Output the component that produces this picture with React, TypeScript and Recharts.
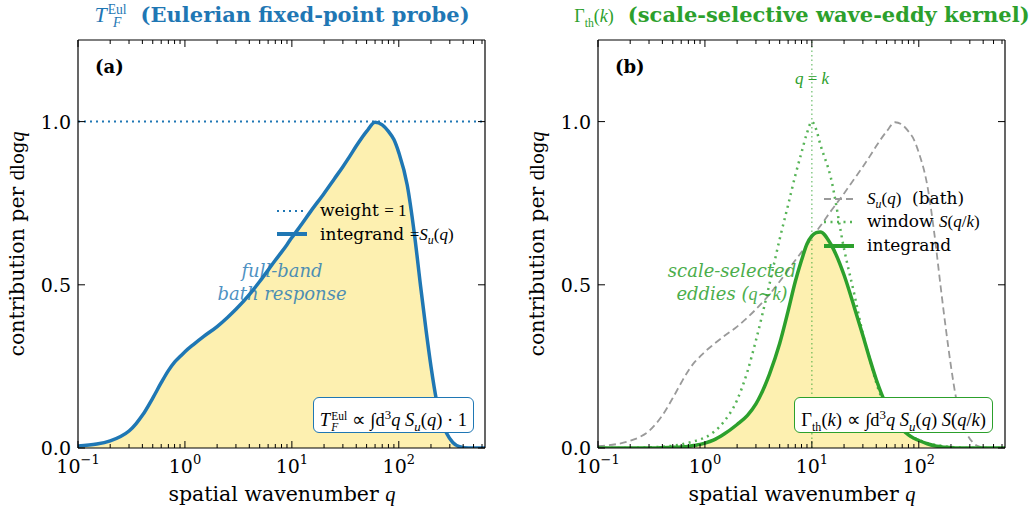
import React from "react";
import {
  Area,
  ComposedChart,
  Line,
  ReferenceLine,
  XAxis,
  YAxis,
} from "recharts";

// wavenumber grid (log spaced)
const Q = [
  0.1, 0.15, 0.2, 0.25, 0.3, 0.35, 0.4, 0.5, 0.6, 0.7, 0.8, 0.9, 1, 1.2, 1.5,
  2, 2.5, 3, 4, 5, 6, 7, 8, 9, 10, 11, 12, 15, 20, 25, 30, 35, 40, 50, 60, 70,
  80, 90, 100, 120, 140, 160, 180, 200, 225, 250, 280, 320, 370, 450, 640,
];
// bath spectrum S_u(q)
const SU = [
  0.006, 0.012, 0.022, 0.035, 0.052, 0.075, 0.1, 0.153, 0.2, 0.237, 0.263,
  0.28, 0.295, 0.317, 0.342, 0.372, 0.4, 0.425, 0.47, 0.51, 0.545, 0.575, 0.6,
  0.623, 0.645, 0.663, 0.68, 0.725, 0.78, 0.825, 0.862, 0.895, 0.925, 0.97,
  0.998, 0.99, 0.97, 0.945, 0.905, 0.805, 0.655, 0.495, 0.36, 0.25, 0.147,
  0.085, 0.045, 0.017, 0.004, 0, 0,
];
// window S(q/k), k = 10
const WIN = [
  0, 0, 0, 0.001, 0.002, 0.003, 0.004, 0.007, 0.011, 0.016, 0.021, 0.026,
  0.032, 0.048, 0.08, 0.147, 0.235, 0.33, 0.5, 0.64, 0.745, 0.835, 0.905,
  0.965, 1.0, 0.975, 0.93, 0.83, 0.61, 0.47, 0.35, 0.27, 0.2, 0.12, 0.08,
  0.055, 0.04, 0.031, 0.025, 0.015, 0.01, 0.007, 0.004, 0.003, 0.002, 0.001, 0,
  0, 0, 0, 0,
];
// integrand S_u(q) S(q/k)
const INTEG = [
  0, 0, 0, 0, 0, 0, 0.001, 0.002, 0.003, 0.005, 0.008, 0.011, 0.015, 0.024,
  0.042, 0.072, 0.1, 0.135, 0.225, 0.32, 0.42, 0.51, 0.575, 0.625, 0.65, 0.66,
  0.662, 0.625, 0.53, 0.43, 0.345, 0.27, 0.21, 0.13, 0.085, 0.058, 0.04, 0.03,
  0.023, 0.013, 0.007, 0.004, 0.002, 0.001, 0, 0, 0, 0, 0, 0, 0,
];

const X_TICKS = [
  0.1, 0.2, 0.3, 0.4, 0.5, 0.6, 0.7, 0.8, 0.9, 1, 2, 3, 4, 5, 6, 7, 8, 9, 10,
  20, 30, 40, 50, 60, 70, 80, 90, 100, 200, 300, 400, 500, 600,
];
const X_MAJOR = [0.1, 1, 10, 100];
const X_EXP = ["\u22121", "0", "1", "2"];
const Y_TICKS = [0, 0.5, 1.0];
const Y_LABELS = ["0.0", "0.5", "1.0"];

const DATA = Q.map((q, i) => ({
  q,
  su: SU[i],
  win: WIN[i],
  integ: INTEG[i],
}));

const BLUE = "#1f77b4";
const GREEN = "#2ca02c";
const GRAY = "#9a9a9a";
const FILL = "#fdf0b0";
const SERIF = "DejaVu Serif";
const MATH = "Liberation Serif";

function BottomTick(p: any) {
  const v = p.payload.value;
  const mi = X_MAJOR.indexOf(v);
  const len = mi >= 0 ? 7 : 4;
  return (
    <g>
      <line x1={p.x} x2={p.x} y1={p.y} y2={p.y - len} stroke="#000" strokeWidth={1} />
      {mi >= 0 && (
        <text x={p.x} y={p.y + 25} textAnchor="middle" fontFamily={SERIF} fontSize={19} fill="#000">
          <tspan>10</tspan>
          <tspan dy={-9} fontSize={13}>{X_EXP[mi]}</tspan>
        </text>
      )}
    </g>
  );
}

function TopTick(p: any) {
  const len = X_MAJOR.indexOf(p.payload.value) >= 0 ? 7 : 4;
  return <line x1={p.x} x2={p.x} y1={p.y} y2={p.y + len} stroke="#000" strokeWidth={1} />;
}

function LeftTick(p: any) {
  const i = Y_TICKS.indexOf(p.payload.value);
  return (
    <g>
      <line x1={p.x} x2={p.x + 7} y1={p.y} y2={p.y} stroke="#000" strokeWidth={1} />
      <text x={p.x - 7} y={p.y + 7} textAnchor="end" fontFamily={SERIF} fontSize={19} fill="#000">
        {Y_LABELS[i]}
      </text>
    </g>
  );
}

function RightTick(p: any) {
  return <line x1={p.x} x2={p.x - 7} y1={p.y} y2={p.y} stroke="#000" strokeWidth={1} />;
}

function Axes() {
  return [
    <XAxis
      key="xb"
      xAxisId="b"
      dataKey="q"
      type="number"
      scale="log"
      domain={[0.1, 640]}
      allowDataOverflow
      ticks={X_TICKS}
      interval={0}
      height={30}
      tickSize={0}
      tickMargin={0}
      tickLine={false}
      axisLine={{ stroke: "#000", strokeWidth: 1.2 }}
      tick={(p: any) => <BottomTick {...p} />}
    />,
    <XAxis
      key="xt"
      xAxisId="t"
      orientation="top"
      dataKey="q"
      type="number"
      scale="log"
      domain={[0.1, 640]}
      allowDataOverflow
      ticks={X_TICKS}
      interval={0}
      height={10}
      tickSize={0}
      tickMargin={0}
      tickLine={false}
      axisLine={{ stroke: "#000", strokeWidth: 1.2 }}
      tick={(p: any) => <TopTick {...p} />}
    />,
    <YAxis
      key="yl"
      yAxisId="l"
      type="number"
      domain={[0, 1.25]}
      allowDataOverflow
      ticks={Y_TICKS}
      interval={0}
      width={40}
      tickSize={0}
      tickMargin={0}
      tickLine={false}
      axisLine={{ stroke: "#000", strokeWidth: 1.2 }}
      tick={(p: any) => <LeftTick {...p} />}
    />,
    <YAxis
      key="yr"
      yAxisId="r"
      orientation="right"
      type="number"
      domain={[0, 1.25]}
      allowDataOverflow
      ticks={Y_TICKS}
      interval={0}
      width={10}
      tickSize={0}
      tickMargin={0}
      tickLine={false}
      axisLine={{ stroke: "#000", strokeWidth: 1.2 }}
      tick={(p: any) => <RightTick {...p} />}
    />,
  ];
}

const M = ({ children }: { children: React.ReactNode }) => (
  <span style={{ fontFamily: MATH, fontStyle: "italic" }}>{children}</span>
);
const R = ({ children }: { children: React.ReactNode }) => (
  <span style={{ fontFamily: MATH }}>{children}</span>
);

function TEul() {
  return (
    <span style={{ fontFamily: MATH, whiteSpace: "nowrap" }}>
      <i>T</i>
      <span
        style={{
          display: "inline-flex",
          flexDirection: "column",
          fontSize: "0.62em",
          lineHeight: 0.95,
          verticalAlign: "middle",
          marginLeft: 1,
        }}
      >
        <span>Eul</span>
        <i>F</i>
      </span>
    </span>
  );
}

function GammaTh() {
  return (
    <span style={{ fontFamily: MATH, whiteSpace: "nowrap" }}>
      Γ<sub style={{ fontSize: "0.65em" }}>th</sub>(<i>k</i>)
    </span>
  );
}

function Su() {
  return (
    <M>
      S<sub style={{ fontSize: "0.7em" }}>u</sub>
      <span style={{ fontStyle: "normal" }}>(</span>q<span style={{ fontStyle: "normal" }}>)</span>
    </M>
  );
}

const abs = (left: number, top: number, extra: React.CSSProperties = {}): React.CSSProperties => ({
  position: "absolute",
  left,
  top,
  whiteSpace: "nowrap",
  ...extra,
});

function Sample({ color, width, dash, opacity = 1 }: { color: string; width: number; dash?: string; opacity?: number }) {
  return (
    <svg width={30} height={12} style={{ display: "block" }}>
      <line x1={0} x2={30} y1={6} y2={6} stroke={color} strokeWidth={width} strokeDasharray={dash} strokeOpacity={opacity} />
    </svg>
  );
}

const boxStyle = (right: number, color: string): React.CSSProperties => ({
  position: "absolute",
  right,
  top: 397,
  height: 34,
  lineHeight: "34px",
  padding: "0 6px",
  border: `1.3px solid ${color}`,
  borderRadius: 6,
  background: "#fff",
  fontFamily: MATH,
  fontSize: 18.5,
  whiteSpace: "nowrap",
});

export default function App() {
  return (
    <div style={{ position: "absolute", left: 0, top: 0, width: 1033, height: 513, background: "#fff", fontFamily: SERIF }}>
      {/* panel (a) */}
      <div style={{ position: "absolute", left: 0, top: 0 }}>
        <ComposedChart width={520} height={513} data={DATA} margin={{ top: 30, right: 25, bottom: 35, left: 38 }}>
          {Axes()}
          <Area xAxisId="b" yAxisId="l" type="monotone" dataKey="su" stroke="none" fill={FILL} fillOpacity={1} isAnimationActive={false} />
          <ReferenceLine xAxisId="b" yAxisId="l" y={1} stroke={BLUE} strokeWidth={2} strokeDasharray="2 4" />
          <Line xAxisId="b" yAxisId="l" type="monotone" dataKey="su" stroke={BLUE} strokeWidth={3.5} dot={false} isAnimationActive={false} />
        </ComposedChart>
      </div>
      {/* panel (b) */}
      <div style={{ position: "absolute", left: 520, top: 0 }}>
        <ComposedChart width={513} height={513} data={DATA} margin={{ top: 30, right: 18, bottom: 35, left: 38 }}>
          {Axes()}
          <Area xAxisId="b" yAxisId="l" type="monotone" dataKey="integ" stroke="none" fill={FILL} fillOpacity={1} isAnimationActive={false} />
          <ReferenceLine xAxisId="b" yAxisId="l" x={10} stroke={GREEN} strokeOpacity={0.7} strokeWidth={1.2} strokeDasharray="1.5 3" />
          <Line xAxisId="b" yAxisId="l" type="monotone" dataKey="su" stroke={GRAY} strokeWidth={1.8} strokeDasharray="7 4" dot={false} isAnimationActive={false} />
          <Line xAxisId="b" yAxisId="l" type="monotone" dataKey="win" stroke={GREEN} strokeOpacity={0.8} strokeWidth={2.5} strokeDasharray="2 4.5" dot={false} isAnimationActive={false} />
          <Line xAxisId="b" yAxisId="l" type="monotone" dataKey="integ" stroke={GREEN} strokeWidth={3.5} dot={false} isAnimationActive={false} />
        </ComposedChart>
      </div>

      {/* titles */}
      <div style={abs(-18, 1, { width: 600, textAlign: "center", color: BLUE, fontSize: 21, lineHeight: "28px" })}>
        <span style={{ fontSize: 22 }}>
          <TEul />
        </span>
        <span style={{ fontWeight: "bold", marginLeft: 14 }}>(Eulerian fixed-point probe)</span>
      </div>
      <div style={abs(502, 1, { width: 600, textAlign: "center", color: GREEN, fontSize: 21, lineHeight: "28px" })}>
        <span style={{ fontSize: 18 }}>
          <GammaTh />
        </span>
        <span style={{ fontWeight: "bold", marginLeft: 14 }}>(scale-selective wave-eddy kernel)</span>
      </div>

      {/* panel labels */}
      <div style={abs(95, 56, { fontWeight: "bold", fontSize: 18 })}>(a)</div>
      <div style={abs(615, 56, { fontWeight: "bold", fontSize: 18 })}>(b)</div>

      {/* axis labels */}
      {[0, 520].map((dx) => (
        <React.Fragment key={dx}>
          <div style={abs(dx + 82, 482, { width: 400, textAlign: "center", fontSize: 20.5 })}>
            spatial wavenumber <M>q</M>
          </div>
          <div
            style={abs(dx - 182, 231, {
              width: 400,
              textAlign: "center",
              fontSize: 20.5,
              transform: "rotate(-90deg)",
              transformOrigin: "200px 13px",
            })}
          >
            contribution per <R>d</R>
            <span style={{ fontSize: 18 }}>log</span>
            <M>q</M>
          </div>
        </React.Fragment>
      ))}

      {/* legend (a) */}
      <div style={abs(277, 205)}>
        <Sample color={BLUE} width={2} dash="2 4" />
      </div>
      <div style={abs(320, 198, { fontSize: 17, lineHeight: "24px" })}>
        weight <R>= 1</R>
      </div>
      <div style={abs(277, 228)}>
        <Sample color={BLUE} width={4} />
      </div>
      <div style={abs(320, 222, { fontSize: 17, lineHeight: "24px" })}>
        integrand <R>=</R>
        <Su />
      </div>

      {/* legend (b) */}
      <div style={abs(824, 193)}>
        <Sample color={GRAY} width={1.8} dash="7 4" />
      </div>
      <div style={abs(867, 186, { fontSize: 17, lineHeight: "24px" })}>
        <Su />
        {"\u00a0\u00a0"}(bath)
      </div>
      <div style={abs(824, 216)}>
        <Sample color={GREEN} width={2.5} dash="2 4.5" opacity={0.8} />
      </div>
      <div style={abs(867, 209, { fontSize: 17, lineHeight: "24px" })}>
        window <M>S</M>
        <R>(</R>
        <M>q</M>
        <R>/</R>
        <M>k</M>
        <R>)</R>
      </div>
      <div style={abs(824, 240)}>
        <Sample color={GREEN} width={4} />
      </div>
      <div style={abs(867, 233, { fontSize: 17, lineHeight: "24px" })}>integrand</div>

      {/* annotations */}
      <div style={abs(132, 259, { width: 300, textAlign: "center", fontStyle: "italic", fontSize: 18, lineHeight: "23px", color: BLUE, opacity: 0.8 })}>
        full-band
        <br />
        bath response
      </div>
      <div style={abs(582, 259, { width: 300, textAlign: "center", fontStyle: "italic", fontSize: 18, lineHeight: "23px", color: GREEN, opacity: 0.85 })}>
        scale-selected
        <br />
        eddies (<M>q</M>~<M>k</M>)
      </div>
      <div style={abs(772, 69, { width: 80, textAlign: "center", fontSize: 17, color: GREEN, fontFamily: MATH, fontStyle: "italic" })}>
        q <span style={{ fontStyle: "normal" }}>=</span> k
      </div>

      {/* formula boxes */}
      <div style={boxStyle(1033 - 474, BLUE)}>
        <TEul /> ∝ ∫d<sup style={{ fontSize: "0.7em" }}>3</sup>
        <i>q</i> <Su /> · 1
      </div>
      <div style={boxStyle(1033 - 993, GREEN)}>
        <GammaTh /> ∝ ∫d<sup style={{ fontSize: "0.7em" }}>3</sup>
        <i>q</i> <Su /> <i>S</i>(<i>q</i>/<i>k</i>)
      </div>
    </div>
  );
}
